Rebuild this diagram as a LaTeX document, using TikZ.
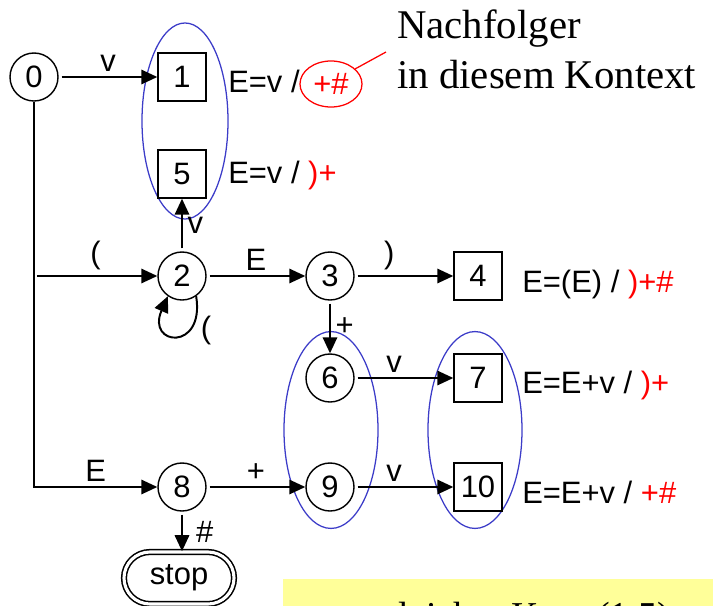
\documentclass[tikz,border=0pt]{standalone}
\usepackage{fontspec}
\setmainfont{Liberation Serif}
\setsansfont{Liberation Sans}
\usetikzlibrary{shapes.geometric, shapes.misc, arrows.meta, positioning}
\definecolor{clrGroup}{HTML}{3C3CC8}
\definecolor{clrLook}{HTML}{FF0000}
\definecolor{clrHint}{HTML}{FFFF99}
\tikzset{
  state/.style = {circle, draw, line width=1pt, minimum size=1.2cm, inner sep=0pt,
                  font=\sffamily\fontsize{22}{26}\selectfont},
  reduce/.style = {rectangle, draw, line width=1pt, minimum size=1.2cm, inner sep=0pt,
                   font=\sffamily\fontsize{22}{26}\selectfont},
  stopbox/.style = {rounded rectangle, draw, double, line width=1.1pt, double distance=2.2pt,
                    minimum width=2.75cm, minimum height=1.3cm, inner sep=0pt,
                    font=\sffamily\fontsize{22}{26}\selectfont},
  item/.style = {anchor=base west, inner sep=0pt, font=\sffamily\fontsize{22}{26}\selectfont},
  group/.style = {ellipse, draw=clrGroup, line width=0.9pt, inner sep=0pt},
  arrow/.style = {-{Triangle[length=4mm, width=3.6mm]}, line width=1.4pt, shorten <=2pt},
  elabel/.style = {font=\sffamily\fontsize{22}{26}\selectfont},
  note/.style = {anchor=base west, inner sep=0pt, font=\fontsize{29}{35}\selectfont},
}

\begin{document}
\begin{tikzpicture}[x=0.025cm, y=-0.025cm]
  \useasboundingbox (0,0) rectangle (713,606);
  % columns and rows (in pixels of the slide)
  \def\colA{34}
  \def\colB{182}
  \def\colC{330}
  \def\colD{478}
  \def\rowA{77}
  \def\rowB{174}
  \def\rowC{276}
  \def\rowD{378}
  \def\rowE{487}

  % --- Item groups ---
  \node[group, minimum width=2.15cm, minimum height=4.9cm] at (185,121) (g15) {};
  \node[group, minimum width=2.35cm, minimum height=4.92cm] at (331,430) (g69) {};
  \node[group, minimum width=2.35cm, minimum height=4.92cm] at (475,430) (g710) {};

  % --- States ---
  \node[state]  at (\colA, \rowA) (n0) {0};
  \node[reduce] at (\colB, \rowA) (n1) {1};
  \node[reduce] at (\colB, \rowB) (n5) {5};
  \node[state]  at (\colB, \rowC) (n2) {2};
  \node[state]  at (\colC, \rowC) (n3) {3};
  \node[reduce] at (\colD, \rowC) (n4) {4};
  \node[state]  at (\colC, \rowD) (n6) {6};
  \node[reduce] at (\colD, \rowD) (n7) {7};
  \node[state]  at (\colB, \rowE) (n8) {8};
  \node[state]  at (\colC, \rowE) (n9) {9};
  \node[reduce] at (\colD, \rowE) (n10) {10};
  \node[stopbox] at (179,578) (stop) {stop};

  % --- Transitions ---
  \draw[arrow] (n0) -- node[elabel, above] (e01) {v} (n1);
  \coordinate (fork) at (n0 |- n2);
  \draw[arrow] (fork) -- node[elabel, above] (e02) {(} (n2);
  \draw[arrow, shorten <=0pt] (n0) |- node[elabel, above, pos=0.75] (e08) {E} (n8);
  \draw[arrow] (n2) -- node[elabel, right] (e25) {v} (n5);
  \draw[arrow] (n2) -- node[elabel, above] (e23) {E} (n3);
  \draw[arrow, shorten <=0pt] (n2.-55) .. controls (205,352) and (146,346) .. (n2.-125);
  \node[elabel] at (206,330) (e22) {(};
  \draw[arrow] (n3) -- node[elabel, above, pos=0.35] (e34) {)} (n4);
  \draw[arrow] (n3) -- node[elabel, right] (e36) {+} (n6);
  \draw[arrow] (n6) -- node[elabel, above, pos=0.4] (e67) {v} (n7);
  \draw[arrow] (n8) -- node[elabel, above] (e89) {+} (n9);
  \draw[arrow] (n9) -- node[elabel, above, pos=0.4] (e910) {v} (n10);
  \draw[arrow] (n8) -- node[elabel, right, xshift=6pt] (e8s) {\#} (n8 |- stop.north);

  % --- Reduce items with successors ---
  \node[item] at (228,92)  (t1)  {E=v /};
  \node[elabel, ellipse, draw=clrLook, line width=0.9pt, text=clrLook,
        minimum width=1.55cm, minimum height=1.15cm, inner sep=0pt] at (331,84) (la1) {+\#};
  \node[item] at (228,183) (t5)  {E=v / \textcolor{clrLook}{)+}};
  \node[item] at (522,292) (t4)  {E=(E) / \textcolor{clrLook}{)+\#}};
  \node[item] at (522,393) (t7)  {E=E+v / \textcolor{clrLook}{)+}};
  \node[item] at (522,503) (t10) {E=E+v / \textcolor{clrLook}{+\#}};

  % --- Note on the successor ---
  \node[note] at (397,38) (note1) {Nachfolger};
  \node[note] at (397,88) (note2) {in diesem Kontext};
  \coordinate (noteTip) at (386,52);
  \draw[clrLook, line width=0.9pt] (la1.32) -- (noteTip);

  % --- Hint box, cut by the slide edge ---
  \begin{scope}
    \clip (0,0) rectangle (713,606);
    \node[fill=clrHint, anchor=north west, minimum width=10.8cm, minimum height=1cm,
          inner sep=0pt] at (283,579) (hint) {};
    \node[note, anchor=base east, font=\fontsize{27}{32}\selectfont] at (670,628) (hintText)
      {gleicher Kern (1,5)};
  \end{scope}
\end{tikzpicture}
\end{document}
